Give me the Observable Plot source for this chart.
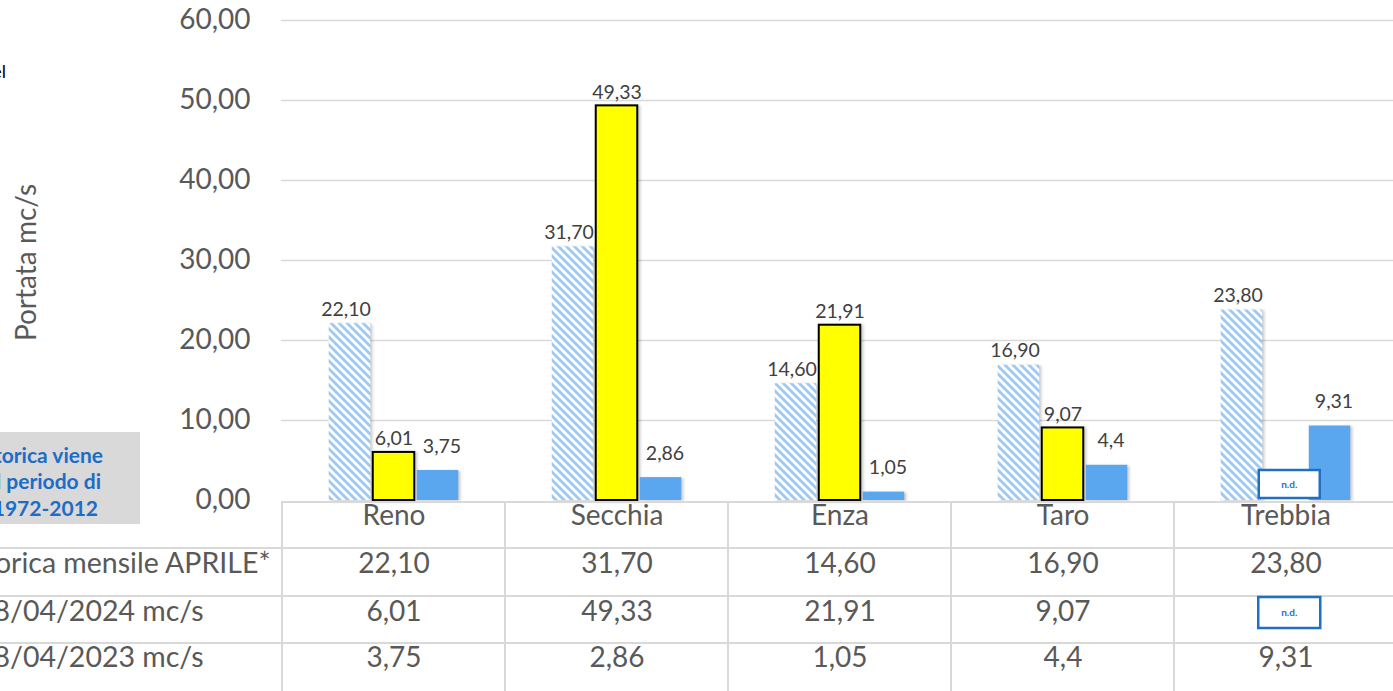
<!DOCTYPE html>
<html>
<head>
<meta charset="utf-8">
<script src="https://cdn.jsdelivr.net/npm/d3@7"></script>
<script src="https://cdn.jsdelivr.net/npm/@observablehq/plot@0.6"></script>
<style>
  html, body { margin: 0; padding: 0; background: #fff; overflow: hidden; }
  #chart svg { display: block; font-family: Lato, "Open Sans", sans-serif; }
</style>
</head>
<body>
<div id="chart"></div>
<script>
// ---- data ----
const rivers = ["Reno", "Secchia", "Enza", "Taro", "Trebbia"];
const histApril = [22.10, 31.70, 14.60, 16.90, 23.80];
const flow2024 = [6.01, 49.33, 21.91, 9.07, null];
const flow2023 = [3.75, 2.86, 1.05, 4.4, 9.31];
const rowLabels = ["Portata storica mensile APRILE*", "Portata 18/04/2024 mc/s", "Portata 18/04/2023 mc/s"];
const yTicks = [0, 10, 20, 30, 40, 50, 60];
const noteLines = ["*La media storica viene", "calcolata sul periodo di", "riferimento 1972-2012"];

const rows = rivers.map((r, i) => ({river: r, hist: histApril[i], f24: flow2024[i], f23: flow2023[i]}));

const fmt2 = v => v.toFixed(2).replace(".", ",");
const fmtRaw = v => String(v).replace(".", ",");

// ---- layout constants ----
const W = 1393, H = 691;
const mL = 281, mT = 20, mB = 191;
const xRange = [281, 1398.5];
const step = (xRange[1] - xRange[0]) / rivers.length;
const half = step / 2;
const barW = 42;
const offs = [-44, 0, 44];
const inset = o => ({insetLeft: half + o - barW / 2, insetRight: half - o - barW / 2});

const grey = "#595959";
const rowDy = [72, 120, 166];
const rowDx = [-11, -78, -78];

const marks = [
  Plot.gridY(yTicks.filter(t => t > 0), {stroke: "#d9d9d9", strokeOpacity: 1, strokeWidth: 1.5}),
  Plot.axisY({ticks: yTicks, tickFormat: fmt2, tickSize: 0, tickPadding: 31, fontSize: 28, color: grey, label: null}),
  Plot.text(["Portata mc/s"], {frameAnchor: "left", textAnchor: "middle", dx: -254, dy: 2, rotate: -90, fontSize: 28, fill: grey}),
  Plot.barY(rows, {x: "river", y: "hist", fill: "url(#hatch)", ...inset(offs[0])}),
  Plot.barY(rows.filter(d => d.f24 != null), {x: "river", y: "f24", fill: "#ffff00", stroke: "#000", strokeWidth: 2, ...inset(offs[1])}),
  Plot.barY(rows, {x: "river", y: "f23", fill: "#5aa7f0", ...inset(offs[2])}),
  Plot.text(rows, {x: "river", y: "hist", text: d => fmt2(d.hist), dx: offs[0] - 4, dy: -8, lineAnchor: "bottom", fontSize: 19.5, fill: "#404040"}),
  Plot.text(rows.filter(d => d.f24 != null), {x: "river", y: "f24", text: d => fmt2(d.f24), dx: offs[1], dy: -7, lineAnchor: "bottom", fontSize: 19.5, fill: "#404040"}),
  Plot.text(rows, {x: "river", y: "f23", text: d => fmtRaw(d.f23), dx: offs[2] + 4, dy: -18, lineAnchor: "bottom", fontSize: 19.5, fill: "#404040"}),
  // data table
  Plot.text(rows, {x: "river", frameAnchor: "bottom", dy: 24, text: "river", fontSize: 28, fill: grey}),
  Plot.text(rows, {x: "river", frameAnchor: "bottom", dy: rowDy[0], text: d => fmt2(d.hist), fontSize: 28, fill: grey}),
  Plot.text(rows.filter(d => d.f24 != null), {x: "river", frameAnchor: "bottom", dy: rowDy[1], text: d => fmt2(d.f24), fontSize: 28, fill: grey}),
  Plot.text(rows, {x: "river", frameAnchor: "bottom", dy: rowDy[2], text: d => fmtRaw(d.f23), fontSize: 28, fill: grey}),
  ...rowLabels.map((t, i) => Plot.text([t], {frameAnchor: "bottom-left", dx: rowDx[i], dy: rowDy[i], textAnchor: "end", fontSize: 28.5, fill: grey}))
];

const svg = Plot.plot({
  width: W, height: H,
  marginLeft: mL, marginRight: 0, marginTop: mT, marginBottom: mB,
  style: {background: "#fff", fontFamily: "Lato, 'Open Sans', sans-serif", overflow: "hidden"},
  x: {domain: rivers, range: xRange, padding: 0, axis: null},
  y: {domain: [0, 60], axis: null},
  marks
});

// hatch pattern
const sel = d3.select(svg);
const defs = sel.insert("defs", ":first-child");
const pat = defs.append("pattern").attr("id", "hatch").attr("patternUnits", "userSpaceOnUse")
  .attr("width", 8).attr("height", 8);
pat.append("rect").attr("width", 8).attr("height", 8).attr("fill", "#fff");
pat.append("path").attr("d", "M-4,4 L4,12 M0,0 L8,8 M4,-4 L12,4")
  .attr("stroke", "#9cc8f3").attr("stroke-width", 2.8);

// subtle shadow on bars
sel.selectAll("g[aria-label='bar']").style("filter", "drop-shadow(2px 1px 1.5px rgba(0,0,0,0.22))");

const x = svg.scale("x");
const y = svg.scale("y");
const y0 = y.apply(0);

// table lines
const tbl = sel.append("g").attr("stroke", "#d9d9d9").attr("stroke-width", 2).attr("fill", "none");
tbl.append("line").attr("x1", xRange[0]).attr("x2", W).attr("y1", y0 + 2).attr("y2", y0 + 2);
[48, 96, 143].forEach(d => tbl.append("line").attr("x1", 0).attr("x2", W).attr("y1", y0 + d).attr("y2", y0 + d));
rivers.forEach(r => {
  const xv = x.apply(r);
  tbl.append("line").attr("x1", xv).attr("x2", xv).attr("y1", y0 + 2).attr("y2", H);
});

// n.d. boxes (Trebbia, 2024)
const ndX = x.apply("Trebbia") + half + 3.5;
function ndBox(cy, w, h) {
  const g = sel.append("g");
  g.append("rect").attr("x", ndX - w / 2).attr("y", cy - h / 2).attr("width", w).attr("height", h)
    .attr("fill", "#fff").attr("stroke", "#1f6fc5").attr("stroke-width", 2.5);
  g.append("text").attr("x", ndX).attr("y", cy + 1).attr("text-anchor", "middle").attr("dominant-baseline", "middle")
    .attr("font-size", 10).attr("font-weight", "bold").attr("fill", "#1f6fc5").text("n.d.");
}
ndBox(y0 - 16, 61, 28);
ndBox(y0 + 112.5, 62, 31);

// note box on the left
const note = sel.append("g");
note.append("rect").attr("x", -10).attr("y", 432).attr("width", 150).attr("height", 92).attr("fill", "#d9d9d9");
[[103, 458], [101, 484], [98, 511]].forEach(([tx, ty], i) => {
  note.append("text").attr("x", tx).attr("y", ty).attr("text-anchor", "end").attr("dominant-baseline", "middle")
    .attr("font-size", 21).attr("font-weight", "bold").attr("fill", "#1c6dc6").text(noteLines[i]);
});

// fragment of the cropped title at top-left
sel.append("text").attr("x", 6).attr("y", 78).attr("text-anchor", "end").attr("font-size", 18)
  .attr("fill", "#000").text("del");

document.getElementById("chart").appendChild(svg);
</script>
</body>
</html>
